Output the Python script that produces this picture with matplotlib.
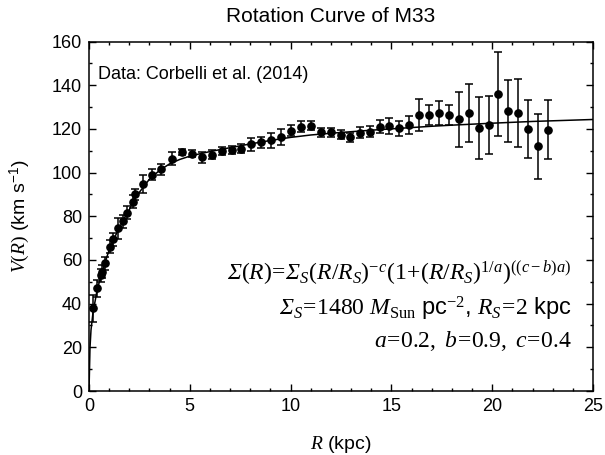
import matplotlib
matplotlib.use("Agg")
import matplotlib.pyplot as plt
from matplotlib.ticker import MultipleLocator

plt.rcParams['font.family'] = ['Liberation Sans', 'DejaVu Sans']
plt.rcParams['mathtext.fontset'] = 'custom'
plt.rcParams['mathtext.rm'] = 'Liberation Serif'
plt.rcParams['mathtext.it'] = 'Liberation Serif:italic'
plt.rcParams['mathtext.cal'] = 'Liberation Serif:italic'
plt.rcParams['mathtext.sf'] = 'Liberation Sans'
plt.rcParams['mathtext.bf'] = 'Liberation Serif:bold'

# Observed rotation curve (Corbelli et al. 2014)
radius_kpc = [0.21, 0.41, 0.58, 0.66, 0.79, 1.04, 1.21, 1.45, 1.70, 1.87,
              2.20, 2.29, 2.66, 3.14, 3.56, 4.13, 4.61, 5.10, 5.59, 6.09,
              6.58, 7.08, 7.54, 8.04, 8.53, 9.03, 9.52, 10.02, 10.52, 11.01,
              11.51, 11.99, 12.48, 12.95, 13.44, 13.94, 14.43, 14.90, 15.40, 15.89,
              16.38, 16.88, 17.38, 17.87, 18.35, 18.83, 19.33, 19.83, 20.30, 20.80,
              21.30, 21.80, 22.27, 22.75]
velocity = [37.8, 47.0, 53.0, 54.6, 58.4, 66.0, 69.4, 74.4, 77.8, 81.6,
            86.6, 90.0, 94.7, 99.0, 101.6, 106.3, 109.5, 108.7, 107.0, 108.2,
            109.8, 110.3, 111.0, 112.9, 113.8, 114.8, 116.3, 119.1, 120.9, 121.4,
            118.5, 118.5, 117.4, 116.1, 118.2, 118.6, 121.0, 121.3, 120.2, 121.7,
            126.3, 126.3, 127.3, 126.3, 124.3, 127.3, 120.2, 121.7, 135.9, 128.2,
            127.3, 120.0, 112.1, 119.7]
velocity_err = [6.0, 4.0, 3.0, 3.0, 3.0, 3.0, 3.0, 5.0, 3.0, 3.0,
                3.0, 2.5, 4.0, 2.5, 2.5, 3.0, 1.5, 1.5, 2.5, 2.0,
                1.8, 1.8, 2.0, 2.8, 2.5, 3.5, 3.5, 2.5, 2.5, 2.0,
                2.0, 2.0, 2.0, 2.0, 2.5, 2.5, 3.0, 3.5, 3.5, 4.0,
                7.2, 4.6, 5.3, 4.7, 12.4, 13.3, 14.2, 13.3, 19.1, 14.3,
                15.5, 13.2, 14.9, 13.3]

# Model curve
model_r = [0.0, 0.05, 0.1, 0.2, 0.4, 0.6, 0.8, 1.0, 1.25, 1.5, 1.75, 2.0, 2.25,
           2.5, 2.75, 3.0, 3.5, 4.0, 4.5, 5.0, 5.5, 6.0, 7.0, 8.0, 9.0, 10.0,
           11.0, 12.0, 13.0, 14.0, 15.0, 16.0, 17.0, 18.0, 20.0, 22.0, 24.0, 25.0]
model_v = [0.0, 20.0, 28.0, 36.0, 46.0, 53.0, 59.0, 64.5, 70.0, 74.5, 79.0, 83.0, 87.5,
           91.0, 94.0, 97.0, 101.0, 104.0, 106.0, 107.5, 108.6, 109.6, 111.4, 113.1, 114.7, 116.1,
           117.2, 118.0, 118.7, 119.4, 120.0, 120.6, 121.2, 121.7, 122.6, 123.4, 124.0, 124.3]

x_ticks = [0, 5, 10, 15, 20, 25]
y_ticks = [0, 20, 40, 60, 80, 100, 120, 140, 160]

fig = plt.figure(figsize=(6.05, 4.55), dpi=100)
ax = fig.add_axes([89/605, 1 - 391/455, (593 - 89)/605, (391 - 41.5)/455])

ax.plot(model_r, model_v, color='black', lw=1.1, zorder=2)
ax.errorbar(radius_kpc, velocity, yerr=velocity_err, fmt='o', color='black',
            ms=5.2, elinewidth=1.1, capsize=3.2, capthick=1.1, zorder=3)

ax.set_xlim(0, 25)
ax.set_ylim(0, 160)
ax.set_xticks(x_ticks)
ax.set_yticks(y_ticks)
ax.xaxis.set_minor_locator(MultipleLocator(1))
ax.yaxis.set_minor_locator(MultipleLocator(10))
ax.tick_params(which='both', direction='in', top=True, right=True, labelsize=13,
               width=1.0, pad=5)
ax.tick_params(which='major', length=5)
ax.tick_params(which='minor', length=2.5)
for s in ax.spines.values():
    s.set_linewidth(1.1)

ax.set_xlabel('$R$ (kpc)', fontsize=14, labelpad=14)
ax.set_ylabel('$V(R)$ (km s$^{\\mathsf{-1}}$)', fontsize=14, labelpad=14)
fig.text(331/605, 1 - 17/455, 'Rotation Curve of M33', ha='center', va='center', fontsize=15)

ax.text(0.018, 0.905, 'Data: Corbelli et al. (2014)', transform=ax.transAxes,
        ha='left', va='center', fontsize=13)

fs = 17
ax.text(0.958, 0.338,
        r'$\mathcal{Σ}(R)\!=\!\mathcal{Σ}_S(R/R_S)^{-c}(1\!+\!(R/R_S)^{1/a})^{((c-b)a)}$',
        transform=ax.transAxes, ha='right', va='center', fontsize=fs)
ax.text(0.958, 0.236,
        r'$\mathcal{Σ}_S\!=\!1480\ M_{\mathrm{Sun}}\ \mathsf{pc}^{-2}$, $R_S\!=\!2$ kpc',
        transform=ax.transAxes, ha='right', va='center', fontsize=fs)
ax.text(0.958, 0.143,
        r'$a\!=\!0.2,\ b\!=\!0.9,\ c\!=\!0.4$',
        transform=ax.transAxes, ha='right', va='center', fontsize=fs)

fig.savefig('out.png', dpi=100)
